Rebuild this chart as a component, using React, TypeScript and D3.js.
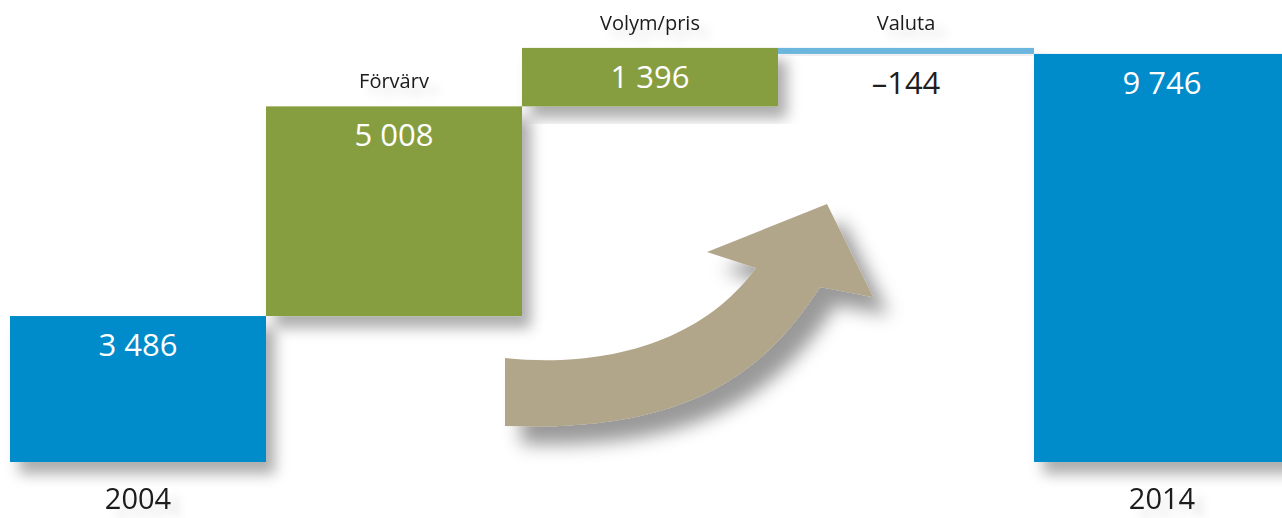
import React from "react";
import * as d3 from "d3";

const categories = ["2004", "Förvärv", "Volym/pris", "Valuta", "2014"];
const values = [3486, 5008, 1396, -144, 9746];
const valueLabels = ["3 486", "5 008", "1 396", "–144", "9 746"];
const kinds = ["total", "delta", "delta", "delta", "total"];

const W = 1282;
const H = 518;

export default function App() {
  const x = d3.scaleBand<string>().domain(categories).range([10, 1290]).padding(0);
  const y = d3.scaleLinear().domain([0, 10000]).range([462, 43.3]);

  let run = 0;
  const bars = categories.map((c, i) => {
    let y0: number, y1: number;
    if (kinds[i] === "total") {
      y0 = 0;
      y1 = values[i];
      run = values[i];
    } else {
      y0 = run;
      y1 = run + values[i];
      run = y1;
    }
    const lo = Math.min(y0, y1);
    const hi = Math.max(y0, y1);
    let color = "#008bca";
    if (kinds[i] === "delta") color = values[i] >= 0 ? "#879e40" : "#6cb5dd";
    return { c, i, lo, hi, color, v: values[i] };
  });

  // decorative arrow
  const ap = d3.path();
  ap.moveTo(505, 358);
  ap.bezierCurveTo(600, 368, 700, 345, 756, 268);
  ap.lineTo(707, 252);
  ap.lineTo(827, 204);
  ap.lineTo(873, 297);
  ap.lineTo(820, 287);
  ap.bezierCurveTo(760, 380, 680, 432, 505, 426);
  ap.closePath();

  const font = "'Open Sans', 'Noto Sans', sans-serif";

  return (
    <svg width={W} height={H} style={{ position: "absolute", left: 0, top: 0 }} fontFamily={font}>
      <defs>
        <filter id="sh" x="-20%" y="-20%" width="150%" height="150%">
          <feDropShadow dx="9" dy="12" stdDeviation="7" floodColor="#000" floodOpacity="0.32" />
        </filter>
        <filter id="ash" x="-30%" y="-30%" width="170%" height="170%">
          <feDropShadow dx="16" dy="18" stdDeviation="9" floodColor="#000" floodOpacity="0.4" />
        </filter>
        <filter id="tsh" x="-30%" y="-50%" width="170%" height="250%">
          <feDropShadow dx="10" dy="8" stdDeviation="5" floodColor="#000" floodOpacity="0.12" />
        </filter>
      </defs>
      <rect x={0} y={0} width={W} height={H} fill="#fff" />
      {bars.map((b) => (
        <rect
          key={b.c}
          x={x(b.c)!}
          y={y(b.hi)}
          width={x.bandwidth()}
          height={y(b.lo) - y(b.hi)}
          fill={b.color}
          filter="url(#sh)"
        />
      ))}
      <path d={ap.toString()} fill="#b2a68a" filter="url(#ash)" />
      {bars.map((b) => {
        const cx = x(b.c)! + x.bandwidth() / 2;
        const neg = b.v < 0;
        return (
          <text
            key={"v" + b.c}
            x={cx}
            y={y(b.hi) + (neg ? 46 : 40)}
            textAnchor="middle"
            fontSize={31}
            fill={neg ? "#1e1e1e" : "#fff"}
          >
            {valueLabels[b.i]}
          </text>
        );
      })}
      {bars.map((b) => {
        const cx = x(b.c)! + x.bandwidth() / 2;
        if (kinds[b.i] === "total") {
          return (
            <text key={"c" + b.c} x={cx} y={509} textAnchor="middle" fontSize={29} fill="#1a1a1a" filter="url(#tsh)">
              {b.c}
            </text>
          );
        }
        return (
          <text key={"c" + b.c} x={cx} y={y(b.hi) - 18} textAnchor="middle" fontSize={20} fill="#1a1a1a" filter="url(#tsh)">
            {b.c}
          </text>
        );
      })}
    </svg>
  );
}
